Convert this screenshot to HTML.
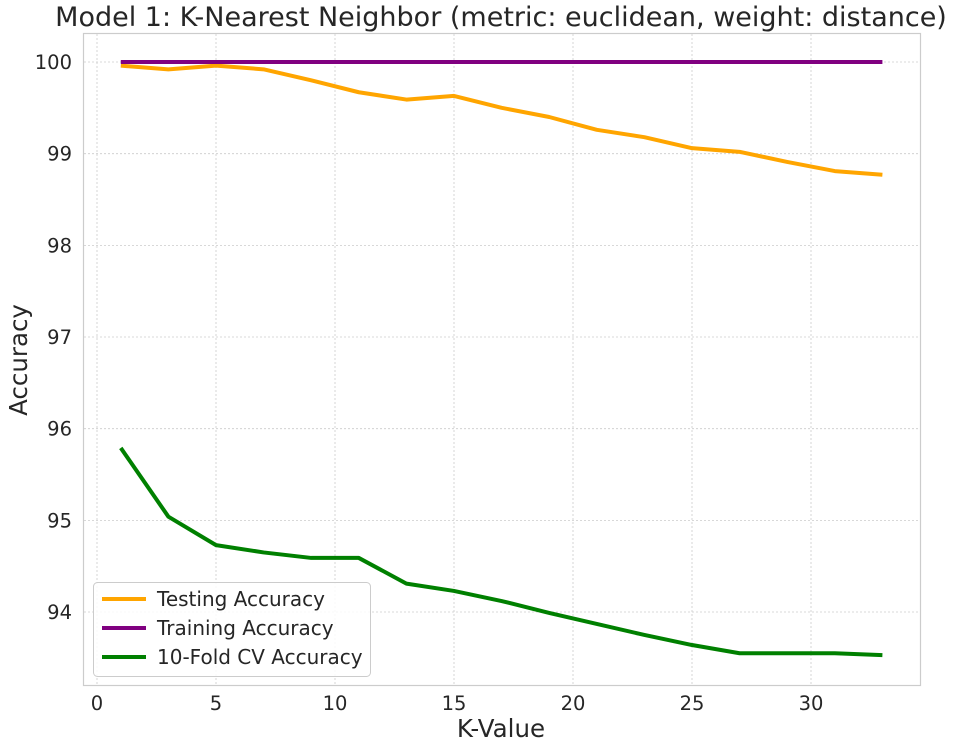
<!DOCTYPE html>
<html><head><meta charset="utf-8"><style>
body{margin:0;background:#fff;font-family:"Liberation Sans","DejaVu Sans",sans-serif;}
svg text{font-family:"DejaVu Sans","Liberation Sans",sans-serif;fill:#262626;}
</style></head><body>
<svg id="chart" width="955" height="749" xmlns="http://www.w3.org/2000/svg">
<text x="501" y="26" font-size="27" text-anchor="middle">Model 1: K-Nearest Neighbor (metric: euclidean, weight: distance)</text>
<g id="grid"></g>
<rect x="83.5" y="33.5" width="837" height="652" fill="none" stroke="#ccc" stroke-width="1.2"/>
<g id="ticks"></g>
<g id="series"></g>
<text x="501" y="737" font-size="24.5" text-anchor="middle">K-Value</text>
<text x="0" y="0" font-size="24.5" text-anchor="middle" transform="translate(27,360) rotate(-90)">Accuracy</text>
<g>
<rect x="93.5" y="582.5" width="277" height="94" rx="4" fill="#fff" fill-opacity="0.85" stroke="#ccc"/>
<line x1="102" y1="599" x2="146" y2="599" stroke="orange" stroke-width="4"/>
<text x="157" y="606" font-size="20">Testing Accuracy</text>
<line x1="102" y1="628" x2="146" y2="628" stroke="purple" stroke-width="4"/>
<text x="157" y="635" font-size="20">Training Accuracy</text>
<line x1="102" y1="657" x2="146" y2="657" stroke="green" stroke-width="4"/>
<text x="157" y="664" font-size="20">10-Fold CV Accuracy</text>
</g>
</svg>
<script>
const kValues=[1,3,5,7,9,11,13,15,17,19,21,23,25,27,29,31,33];
const testing=[99.96,99.92,99.96,99.92,99.80,99.67,99.59,99.63,99.50,99.40,99.26,99.18,99.06,99.02,98.91,98.81,98.77];
const training=[100,100,100,100,100,100,100,100,100,100,100,100,100,100,100,100,100];
const cv=[95.79,95.04,94.73,94.65,94.59,94.59,94.31,94.23,94.12,93.99,93.87,93.75,93.64,93.55,93.55,93.55,93.53];
const xTicks=[0,5,10,15,20,25,30];
const yTicks=[94,95,96,97,98,99,100];
const NS="http://www.w3.org/2000/svg";
const xs=v=>97+v*23.8;
const ys=v=>62+(100-v)*91.67;
const grid=document.getElementById('grid'),ticks=document.getElementById('ticks'),ser=document.getElementById('series');
function mk(t,a,p){const e=document.createElementNS(NS,t);for(const k in a)e.setAttribute(k,a[k]);p.appendChild(e);return e;}
xTicks.forEach(v=>{
 const l=mk('line',{x1:xs(v),x2:xs(v),y1:34,y2:685,stroke:'#ccc','stroke-dasharray':'2,2','stroke-width':0.8},grid);
 
 
 const t=mk('text',{x:xs(v),y:710,'font-size':19.5,'text-anchor':'middle'},ticks);t.textContent=v;
 
 
});
yTicks.forEach(v=>{
 const l=mk('line',{x1:84,x2:920,y1:ys(v),y2:ys(v),stroke:'#ccc','stroke-dasharray':'2,2','stroke-width':0.8},grid);
 
 
 const t=mk('text',{x:72,y:ys(v)+7,'font-size':19.5,'text-anchor':'end'},ticks);t.textContent=v;
 
 
});
[[testing,'orange','testing-line'],[training,'purple','training-line'],[cv,'green','cv-line']].forEach(([d,c,n])=>{
 const p=mk('polyline',{points:kValues.map((k,i)=>xs(k)+','+ys(d[i])).join(' '),fill:'none',stroke:c,'stroke-width':4,'stroke-linejoin':'round'},ser);
 
 
});
</script>
</body></html>
